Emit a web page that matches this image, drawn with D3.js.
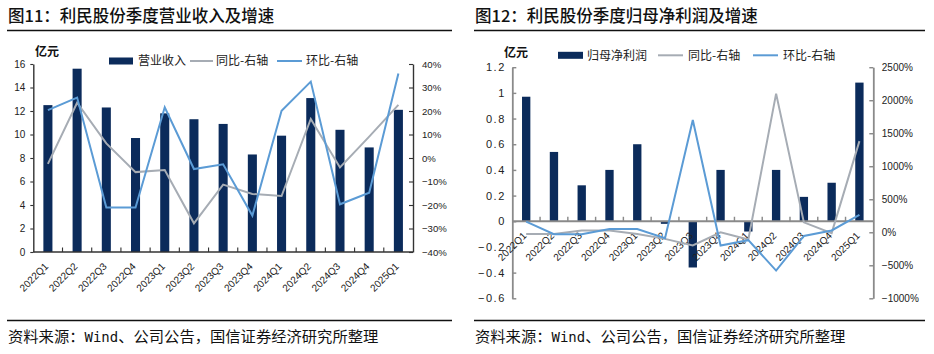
<!DOCTYPE html>
<html><head><meta charset="utf-8">
<script src="https://cdn.jsdelivr.net/npm/d3@7"></script>
<style>body{margin:0;background:#fff;} svg{display:block;}</style>
</head><body>
<script>
// ---------- data ----------
const quarters = ["2022Q1","2022Q2","2022Q3","2022Q4","2023Q1","2023Q2","2023Q3","2023Q4","2024Q1","2024Q2","2024Q3","2024Q4","2025Q1"];
// Figure 11: revenue (亿元) and growth (%)
const revenue     = [12.5, 15.6, 12.3, 9.7, 11.8, 11.3, 10.9, 8.3, 9.9, 13.1, 10.4, 8.9, 12.1];
const revenueYoY  = [-2.5, 23.5, 6.2, -6.0, -5.1, -27.8, -11.3, -15.3, -16.2, 16.6, -4.0, 9.1, 22.6];
const revenueQoQ  = [20.4, 25.7, -21.1, -21.1, 21.6, -4.7, -2.7, -24.5, 20.1, 32.5, -19.7, -14.8, 36.0];
const revLeftTicks  = [0,2,4,6,8,10,12,14,16];
const revRightTicks = [-40,-30,-20,-10,0,10,20,30,40];
// Figure 12: net profit attributable (亿元) and growth (%)
const netProfit   = [0.97, 0.54, 0.28, 0.40, 0.60, -0.02, -0.36, 0.40, -0.08, 0.40, 0.19, 0.30, 1.08];
const profitYoY   = [-27, -27, 27, 27, -27, -100, -200, 0, -110, 2100, 150, -12, 1380];
const profitQoQ   = [160, -30, -30, 48, 50, -90, 1700, -200, -120, -580, -55, 27, 265];
const profLeftTicks  = [-0.6,-0.4,-0.2,0,0.2,0.4,0.6,0.8,1,1.2];
const profRightTicks = [-1000,-500,0,500,1000,1500,2000,2500];
const titles = ["图11：利民股份季度营业收入及增速","图12：利民股份季度归母净利润及增速"];
const legend1 = ["营业收入","同比-右轴","环比-右轴"];
const legend2 = ["归母净利润","同比-右轴","环比-右轴"];
const unitLabel = "亿元";

// ---------- style ----------
const W=934,H=354;
const CJK = "'Noto Sans CJK SC', sans-serif";
const NUM = "'Liberation Sans', Arial, sans-serif";
const BAR="#0B2B5B", GRAY="#A6ACB4", BLUE="#5B9BD5";
const svg = d3.select("body").append("svg").attr("width",W).attr("height",H);

function frame(x0,x1,title){
  svg.append("text").attr("x",x0+1).attr("y",21.5).text(title)
     .style("font-family",CJK).style("font-size","16.5px").style("font-weight","500").style("fill","#111");
  svg.append("line").attr("x1",x0).attr("x2",x1).attr("y1",30.5).attr("y2",30.5)
     .attr("stroke","#111").attr("stroke-width",1.3);
  svg.append("line").attr("x1",x0).attr("x2",x1).attr("y1",320.5).attr("y2",320.5)
     .attr("stroke","#111").attr("stroke-width",1.3);
  const s = svg.append("text").attr("x",x0+1).attr("y",341.5)
     .style("font-family",CJK).style("font-size","15.3px").style("fill","#111");
  s.append("tspan").text("资料来源：");
  s.append("tspan").style("font-family","'DejaVu Sans Mono', monospace").style("font-size","14px").text("Wind");
  s.append("tspan").text("、公司公告，国信证券经济研究所整理");
}

function chart(o){
  const g = svg.append("g");
  const xb = d3.scaleBand().domain(quarters).range([o.x0,o.x1]).padding(0);
  const step = xb.bandwidth();
  const yL = d3.scaleLinear().domain(o.lDomain).range([o.yB,o.yT]);
  const yR = d3.scaleLinear().domain(o.rDomain).range([o.yB,o.yT]);
  const zeroY = yL(0);
  const bw = step*o.barFrac;

  // bars
  g.selectAll("rect.bar").data(o.bars).join("rect")
    .attr("x",(d,i)=>xb(quarters[i])+(step-bw)/2)
    .attr("width",bw)
    .attr("y",d=>Math.min(yL(d),zeroY))
    .attr("height",d=>Math.abs(yL(d)-zeroY))
    .attr("fill",BAR);

  // axes
  const la = d3.axisLeft(yL).tickValues(o.lTicks).tickSizeInner(o.lTick).tickSizeOuter(0)
     .tickPadding(o.lPad).tickFormat(o.lFmt);
  const ra = d3.axisRight(yR).tickValues(o.rTicks).tickSizeInner(o.rTick).tickSizeOuter(0)
     .tickPadding(o.rPad).tickFormat(o.rFmt);
  const gl = g.append("g").attr("transform",`translate(${o.x0},0)`).call(la);
  const gr = g.append("g").attr("transform",`translate(${o.x1},0)`).call(ra);
  [gl,gr].forEach(a=>{
    a.select(".domain").attr("stroke",o.axisColor).attr("stroke-width",o.axisW);
    a.selectAll(".tick line").attr("stroke",o.axisColor).attr("stroke-width",o.axisW*0.8);
    a.selectAll("text").style("font-family",NUM).style("fill","#222");
  });
  gl.selectAll("text").style("font-size",o.lFont).style("letter-spacing",o.lSpacing||"0px");
  gr.selectAll("text").style("font-size",o.rFont);
  // x axis line at zero
  g.append("line").attr("x1",o.x0).attr("x2",o.x1).attr("y1",zeroY).attr("y2",zeroY)
    .attr("stroke",o.axisColor).attr("stroke-width",o.axisW);
  g.selectAll("line.xt").data(quarters.slice(1)).join("line")
    .attr("x1",d=>xb(d)).attr("x2",d=>xb(d)).attr("y1",zeroY).attr("y2",zeroY-4.5)
    .attr("stroke",o.axisColor).attr("stroke-width",o.axisW*0.8);
  g.selectAll("text.xl").data(quarters).join("text")
    .attr("transform",d=>`translate(${xb(d)+step/2+1},${zeroY+15}) rotate(-45)`)
    .attr("text-anchor","end").text(d=>d)
    .style("font-family",NUM).style("font-size","10px").style("fill","#222");

  // lines
  const ln = d3.line().x((d,i)=>xb(quarters[i])+step/2).y(d=>yR(d));
  g.append("path").datum(o.yoy).attr("d",ln).attr("fill","none").attr("stroke",GRAY).attr("stroke-width",2);
  g.append("path").datum(o.qoq).attr("d",ln).attr("fill","none").attr("stroke",BLUE).attr("stroke-width",2);

  // unit label
  g.append("text").attr("x",o.unitX).attr("y",o.unitY).text(unitLabel)
    .style("font-family",CJK).style("font-size","12px").style("font-weight","bold").style("fill","#111");
  // legend
  const ly = o.legY, L=o.leg;
  g.append("rect").attr("x",L.r[0]).attr("y",ly-3.5).attr("width",L.r[1]-L.r[0]).attr("height",7).attr("fill",BAR);
  g.append("line").attr("x1",L.g[0]).attr("x2",L.g[1]).attr("y1",ly).attr("y2",ly).attr("stroke",GRAY).attr("stroke-width",2);
  g.append("line").attr("x1",L.b[0]).attr("x2",L.b[1]).attr("y1",ly).attr("y2",ly).attr("stroke",BLUE).attr("stroke-width",2);
  L.t.forEach((tx,i)=>{
    g.append("text").attr("x",tx).attr("y",ly+4.2).text(o.legText[i])
      .style("font-family",CJK).style("font-size","12px").style("fill","#222");
  });
}

frame(7,452,titles[0]);
frame(474,925,titles[1]);

const pct = d=>d3.format("d")(d)+"%";
chart({
  x0:33.3,x1:413,yT:64,yB:252,
  bars:revenue, yoy:revenueYoY, qoq:revenueQoQ, barFrac:0.31,
  lDomain:[0,16], rDomain:[-40,40], lTicks:revLeftTicks, rTicks:revRightTicks,
  lTick:3, lPad:5, rTick:-4, rPad:9, lFmt:d3.format("d"), rFmt:pct,
  lFont:"10px", rFont:"9.6px",
  axisColor:"#333", axisW:1.4,
  unitX:35, unitY:55.5, legY:61,
  leg:{r:[109,133], g:[190,213], b:[277,302], t:[138,216,306]}, legText:legend1
});
chart({
  x0:512.3,x1:873.3,yT:67.2,yB:298.3,
  bars:netProfit, yoy:profitYoY, qoq:profitQoQ, barFrac:0.30,
  lDomain:[-0.6,1.2], rDomain:[-1000,2500], lTicks:profLeftTicks, rTicks:profRightTicks,
  lTick:-4, lPad:6.5, rTick:-4, rPad:8.5, lFmt:d3.format("~g"), rFmt:pct,
  lFont:"11px", lSpacing:"1.5px", rFont:"10px",
  axisColor:"#8a8a8a", axisW:1.8,
  unitX:504, unitY:56.5, legY:55.3,
  leg:{r:[558,583], g:[658,683], b:[753,778], t:[587,688,783]}, legText:legend2
});
</script>
</body></html>
